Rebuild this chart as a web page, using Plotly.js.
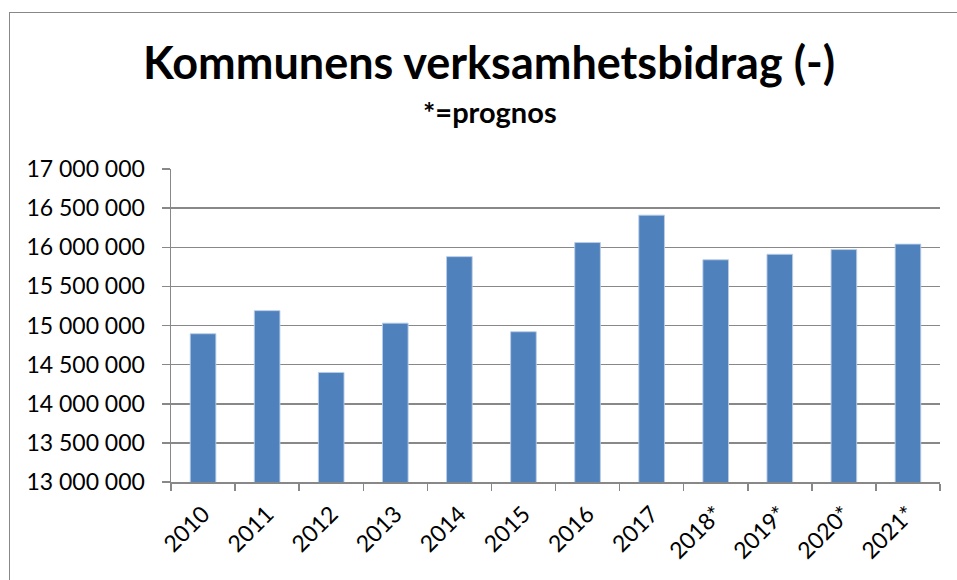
<!DOCTYPE html>
<html>
<head>
<meta charset="utf-8">
<script src="https://cdn.plot.ly/plotly-3.0.1.min.js"></script>
<style>
html,body{margin:0;padding:0;background:#fff;overflow:hidden;}
#frame{position:absolute;left:9px;top:12px;width:1200px;height:900px;border:1.5px solid #888;box-sizing:border-box;}
#chart{position:absolute;left:0;top:0;width:957px;height:580px;}
</style>
</head>
<body>
<div id="frame"></div>
<div id="chart"></div>
<script>
const categories = ["2010","2011","2012","2013","2014","2015","2016","2017","2018*","2019*","2020*","2021*"];
const values = [14895000, 15190000, 14400000, 15030000, 15880000, 14920000, 16060000, 16410000, 15840000, 15910000, 15970000, 16040000];
const yTickVals = [13000000, 13500000, 14000000, 14500000, 15000000, 15500000, 16000000, 16500000, 17000000];
const titleText = "Kommunens verksamhetsbidrag (-)";
const subtitleText = "*=prognos";

const FONT = "Lato, 'Open Sans', sans-serif";
const trace = {
  type: "bar",
  x: categories,
  y: values,
  marker: {color: "#4F81BD", line: {color: "rgba(185,205,229,0.9)", width: 1}},
  hoverinfo: "x+y"
};
const plotH = 580 - 169 - 98;
const plotW = 957 - 171 - 17;
const layout = {
  width: 957, height: 580,
  paper_bgcolor: "rgba(0,0,0,0)",
  plot_bgcolor: "rgba(0,0,0,0)",
  margin: {l: 171, r: 17, t: 169, b: 98},
  separators: ", ",
  showlegend: false,
  bargap: 0.6,
  font: {family: FONT, color: "#000"},
  xaxis: {
    type: "category",
    tickangle: -45,
    tickfont: {size: 23, family: FONT, color: "#000"},
    showline: true, linecolor: "#888", linewidth: 1.5,
    ticks: "outside", ticklen: 7, tickcolor: "#888", tickwidth: 1.5,
    tickson: "boundaries",
    showgrid: false,
    zeroline: false,
    ticklabelstandoff: 8
  },
  yaxis: {
    range: [13000000, 17000000],
    tickvals: yTickVals,
    tickformat: ",d",
    tickfont: {size: 23, family: FONT, color: "#000"},
    showline: true, linecolor: "#888", linewidth: 1.5,
    ticks: "outside", ticklen: 8, tickcolor: "#888", tickwidth: 1.5,
    showgrid: true, gridcolor: "#888", gridwidth: 1.5,
    zeroline: false,
    ticklabelstandoff: 12
  },
  annotations: [
    {text: "<b>" + titleText + "</b>", xref: "paper", yref: "paper",
     x: (489 - 171) / plotW, y: (580 - 98 - 62) / plotH,
     xanchor: "center", yanchor: "middle", showarrow: false, font: {size: 45, family: FONT, color: "#000"}},
    {text: "<b>" + subtitleText + "</b>", xref: "paper", yref: "paper",
     x: (490 - 171) / plotW, y: (580 - 98 - 112) / plotH,
     xanchor: "center", yanchor: "middle", showarrow: false, font: {size: 29, family: FONT, color: "#000"}}
  ]
};
Plotly.newPlot("chart", [trace], layout, {displayModeBar: false, staticPlot: true});
</script>
</body>
</html>
